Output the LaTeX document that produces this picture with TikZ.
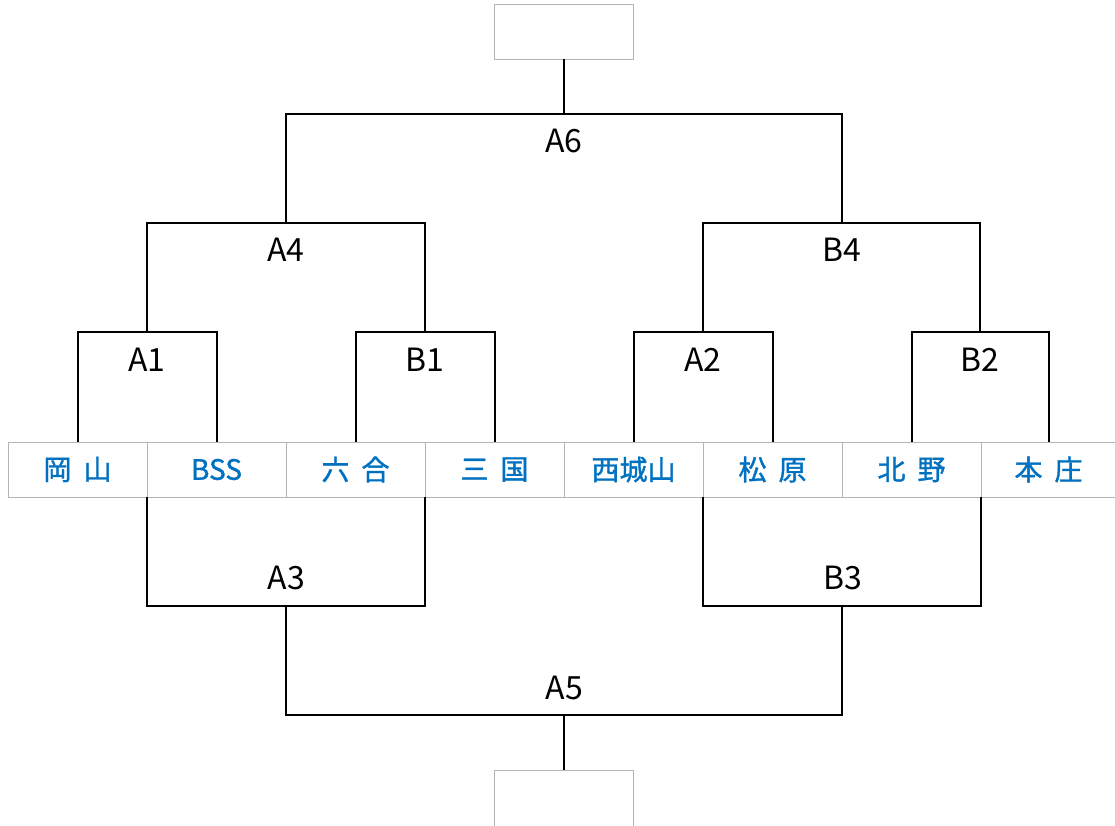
\documentclass[tikz,border=0pt]{standalone}
\usepackage{fontspec}
\newfontfamily\jpfont{Noto Sans CJK JP}
\newfontfamily\teamfont[FakeBold=1.2]{Noto Sans CJK JP}
\usepackage{tikz}
\usetikzlibrary{calc,positioning}
\definecolor{teamblue}{RGB}{0,112,192}
\definecolor{boxgray}{RGB}{180,180,180}

\begin{document}
\begin{tikzpicture}[x=1pt,y=-1pt,
    team/.style={draw=boxgray,line width=.8pt,rectangle,minimum width=139pt,minimum height=55pt,
        inner sep=0pt,text=teamblue,font=\teamfont\fontsize{28}{28}\selectfont},
    slot/.style={draw=boxgray,line width=.8pt,rectangle,minimum width=139pt,minimum height=55pt},
    lbl/.style={inner sep=0pt,font=\jpfont\fontsize{32}{32}\selectfont},
    bracket/.style={line width=2pt,black}]
    \useasboundingbox (0,0) rectangle (1115,825);
    \path
        (77.5,469.5) node [team] (t1) {岡\hspace{12pt}山}
     ++ (139,0)     node [team] (t2) {BSS}
     ++ (139,0)     node [team] (t3) {六\hspace{12pt}合}
     ++ (139,0)     node [team] (t4) {三\hspace{12pt}国}
     ++ (139,0)     node [team] (t5) {西城山}
     ++ (139,0)     node [team] (t6) {松\hspace{12pt}原}
     ++ (139,0)     node [team] (t7) {北\hspace{12pt}野}
     ++ (137,0)     node [team,minimum width=135pt] (t8) {本\hspace{12pt}庄}
     ;
    \node [slot] (top) at (563.5,31.5) {};
    \node [slot,minimum height=62pt] (bottom) at (563.5,801) {};

    % upper bracket
    \coordinate (mA1) at ($(t1.north)!.5!(t2.north)+(0,-110)$);
    \coordinate (mB1) at ($(t3.north)!.5!(t4.north)+(0,-110)$);
    \coordinate (mA2) at ($(t5.north)!.5!(t6.north)+(0,-110)$);
    \coordinate (mB2) at ($(t7.north)!.5!(t8.north)+(0,-110)$);
    \coordinate (mA4) at ($(mA1)!.5!(mB1)+(0,-109)$);
    \coordinate (mB4) at ($(mA2)!.5!(mB2)+(0,-109)$);
    \coordinate (mA6) at ($(mA4)!.5!(mB4)+(0,-109)$);
    \draw [bracket] (t1.north) |- (mA1) -| (t2.north);
    \draw [bracket] (t3.north) |- (mB1) -| (t4.north);
    \draw [bracket] (t5.north) |- (mA2) -| (t6.north);
    \draw [bracket] (t7.north) |- (mB2) -| (t8.north);
    \draw [bracket] (mA1) |- (mA4) -| (mB1);
    \draw [bracket] (mA2) |- (mB4) -| (mB2);
    \draw [bracket] (mA4) |- (mA6) -| (mB4);
    \draw [bracket] (mA6) -- (mA6 |- top.south);

    % lower bracket
    \coordinate (mA3) at ($(t1.south east)!.5!(t3.south east)+(0,109)$);
    \coordinate (mB3) at ($(t5.south east)!.5!(t7.south east)+(0,109)$);
    \coordinate (mA5) at ($(mA3)!.5!(mB3)+(0,109)$);
    \draw [bracket] (t1.south east) |- (mA3) -| (t3.south east);
    \draw [bracket] (t5.south east) |- (mB3) -| (t7.south east);
    \draw [bracket] (mA3) |- (mA5) -| (mB3);
    \draw [bracket] (mA5) -- (mA5 |- bottom.north);

    \node [lbl] at ($(mA1)+(0,28)$) {A1};
    \node [lbl] at ($(mB1)+(0,28)$) {B1};
    \node [lbl] at ($(mA2)+(0,28)$) {A2};
    \node [lbl] at ($(mB2)+(0,28)$) {B2};
    \node [lbl] at ($(mA4)+(0,27)$) {A4};
    \node [lbl] at ($(mB4)+(0,27)$) {B4};
    \node [lbl] at ($(mA6)+(0,27)$) {A6};
    \node [lbl] at ($(mA3)+(0,-28)$) {A3};
    \node [lbl] at ($(mB3)+(0,-28)$) {B3};
    \node [lbl] at ($(mA5)+(0,-27)$) {A5};
\end{tikzpicture}
\end{document}
